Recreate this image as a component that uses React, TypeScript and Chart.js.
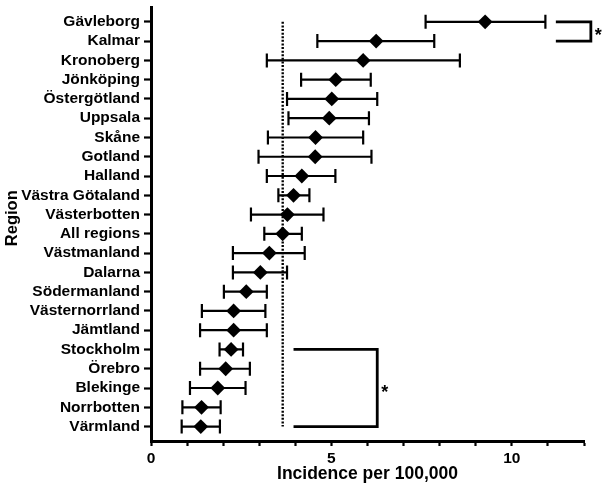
import React, { useEffect, useRef } from 'react';
import { Chart, registerables } from 'chart.js';

Chart.register(...registerables);

// Regions, top to bottom
const regions = [
  'Gävleborg', 'Kalmar', 'Kronoberg', 'Jönköping', 'Östergötland', 'Uppsala',
  'Skåne', 'Gotland', 'Halland', 'Västra Götaland', 'Västerbotten', 'All regions',
  'Västmanland', 'Dalarna', 'Södermanland', 'Västernorrland', 'Jämtland',
  'Stockholm', 'Örebro', 'Blekinge', 'Norrbotten', 'Värmland',
];

// Incidence per 100,000 with 95% confidence limits
const incidence = [
  9.26, 6.24, 5.88, 5.12, 5.01, 4.94, 4.56, 4.55, 4.18, 3.95, 3.78, 3.65,
  3.28, 3.03, 2.64, 2.29, 2.29, 2.22, 2.07, 1.85, 1.40, 1.38,
];
const ciLower = [
  7.61, 4.61, 3.21, 4.16, 3.77, 3.81, 3.24, 2.98, 3.21, 3.53, 2.77, 3.14,
  2.27, 2.27, 2.02, 1.41, 1.36, 1.90, 1.36, 1.08, 0.87, 0.85,
];
const ciUpper = [
  10.93, 7.85, 8.56, 6.09, 6.27, 6.04, 5.88, 6.11, 5.11, 4.39, 4.78, 4.18,
  4.26, 3.77, 3.21, 3.17, 3.21, 2.55, 2.74, 2.62, 1.93, 1.91,
];

// x axis ticks: minor every unit, labelled every 5
const xTicks = [0, 1, 2, 3, 4, 5, 6, 7, 8, 9, 10, 11, 12];
const xTickLabels = [0, 5, 10];

const xTitle = 'Incidence per 100,000';
const yTitle = 'Region';

// Significant differences between groups of regions
const sigGroups = [
  { from: 'Gävleborg', to: 'Kalmar', x0: 11.22, x1: 12.19, label: '*' },
  { from: 'Stockholm', to: 'Värmland', x0: 3.95, x1: 6.27, label: '*' },
];

const overall = incidence[regions.indexOf('All regions')];

const FONT = 'Liberation Sans, Arial, Helvetica, sans-serif';

const forestPlugin = {
  id: 'forest',
  beforeDatasetsDraw(chart: any) {
    const { ctx, scales } = chart;
    const x = scales.x;
    const y = scales.y;
    ctx.save();
    ctx.strokeStyle = '#000';

    // dotted reference line at the all-regions estimate
    const rx = x.getPixelForValue(overall);
    ctx.lineWidth = 2.4;
    ctx.setLineDash([2, 1.6]);
    ctx.beginPath();
    ctx.moveTo(rx, y.getPixelForValue(0));
    ctx.lineTo(rx, y.getPixelForValue(regions.length - 1));
    ctx.stroke();
    ctx.setLineDash([]);

    // confidence interval whiskers
    ctx.lineWidth = 2.2;
    const cap = 7;
    regions.forEach((_, i) => {
      const py = y.getPixelForValue(i);
      const a = x.getPixelForValue(ciLower[i]);
      const b = x.getPixelForValue(ciUpper[i]);
      ctx.beginPath();
      ctx.moveTo(a, py);
      ctx.lineTo(b, py);
      ctx.moveTo(a, py - cap);
      ctx.lineTo(a, py + cap);
      ctx.moveTo(b, py - cap);
      ctx.lineTo(b, py + cap);
      ctx.stroke();
    });
    ctx.restore();
  },
  afterDraw(chart: any) {
    const { ctx, scales, chartArea } = chart;
    const x = scales.x;
    const y = scales.y;
    ctx.save();
    ctx.strokeStyle = '#000';
    ctx.fillStyle = '#000';
    ctx.lineWidth = 2.8;
    ctx.lineJoin = 'miter';
    sigGroups.forEach((g) => {
      const y0 = y.getPixelForValue(regions.indexOf(g.from));
      const y1 = y.getPixelForValue(regions.indexOf(g.to));
      const a = x.getPixelForValue(g.x0);
      const b = x.getPixelForValue(g.x1);
      ctx.beginPath();
      ctx.moveTo(a, y0);
      ctx.lineTo(b, y0);
      ctx.lineTo(b, y1);
      ctx.lineTo(a, y1);
      ctx.stroke();
      ctx.font = `bold 18px ${FONT}`;
      ctx.textAlign = 'left';
      ctx.textBaseline = 'alphabetic';
      ctx.fillText(g.label, b + 4, (y0 + y1) / 2 + 10);
    });

    // vertical axis title
    ctx.font = `bold 16.5px ${FONT}`;
    ctx.textAlign = 'center';
    ctx.textBaseline = 'middle';
    ctx.translate(12, (chartArea.top + chartArea.bottom) / 2 - 6);
    ctx.rotate(-Math.PI / 2);
    ctx.fillText(yTitle, 0, 0);
    ctx.restore();
  },
};

export default function App() {
  const ref = useRef<HTMLCanvasElement>(null);

  useEffect(() => {
    document.body.style.margin = '0';
    const canvas = ref.current;
    if (!canvas) return;

    const tickFont = { family: FONT, size: 15.5, weight: 'bold' as const };
    const titleFont = { family: FONT, size: 17.5, weight: 'bold' as const };

    const chart = new Chart(canvas, {
      type: 'scatter',
      data: {
        datasets: [
          {
            data: regions.map((_, i) => ({ x: incidence[i], y: i })),
            pointStyle: 'rectRot',
            radius: 7.4,
            hoverRadius: 7.4,
            backgroundColor: '#000',
            borderColor: '#000',
            borderWidth: 0,
          },
        ],
      },
      options: {
        responsive: false,
        animation: false,
        events: [],
        layout: { padding: { top: 0, right: 22, bottom: 0, left: 0 } },
        plugins: {
          legend: { display: false },
          tooltip: { enabled: false },
        },
        scales: {
          x: {
            type: 'linear',
            min: 0,
            max: 12,
            afterBuildTicks: (axis: any) => {
              axis.ticks = xTicks.map((v) => ({ value: v }));
            },
            afterFit: (s: any) => {
              s.height = 49;
              s.paddingLeft = 0;
              s.paddingRight = 0;
            },
            ticks: {
              autoSkip: false,
              maxRotation: 0,
              padding: 3,
              color: '#000',
              font: tickFont,
              callback: (v: any) => (xTickLabels.includes(Number(v)) ? String(v) : ''),
            },
            grid: {
              drawOnChartArea: false,
              drawTicks: true,
              tickLength: 5,
              tickWidth: 2.2,
              tickColor: '#000',
            },
            border: { display: true, color: '#000', width: 3 },
            title: {
              display: true,
              text: xTitle,
              color: '#000',
              font: titleFont,
              padding: { top: 2, bottom: 5 },
            },
          },
          y: {
            type: 'linear',
            reverse: true,
            min: -0.75,
            max: regions.length - 0.25,
            afterBuildTicks: (axis: any) => {
              axis.ticks = regions.map((_, i) => ({ value: i }));
            },
            afterFit: (s: any) => {
              s.width = 151;
              s.paddingTop = 0;
              s.paddingBottom = 0;
            },
            ticks: {
              autoSkip: false,
              padding: 4,
              color: '#000',
              font: tickFont,
              callback: (v: any) => regions[Number(v)] ?? '',
            },
            grid: {
              drawOnChartArea: false,
              drawTicks: true,
              tickLength: 7,
              tickWidth: 2.2,
              tickColor: '#000',
            },
            border: { display: true, color: '#000', width: 3 },
          },
        },
      },
      plugins: [forestPlugin],
    });

    return () => chart.destroy();
  }, []);

  return (
    <div style={{ width: 606, height: 490 }}>
      <canvas ref={ref} width={606} height={490} style={{ display: 'block' }} />
    </div>
  );
}
